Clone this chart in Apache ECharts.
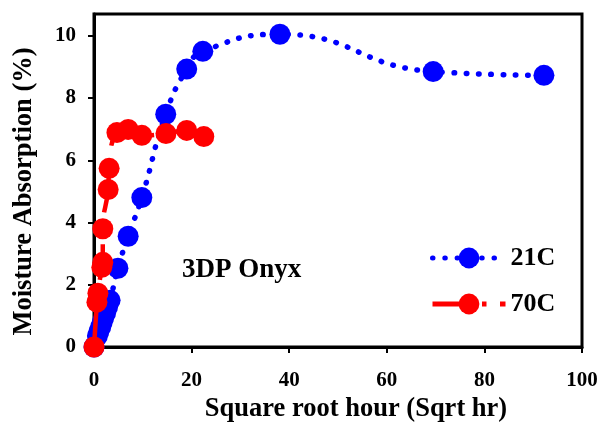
<!DOCTYPE html>
<html>
<head>
<meta charset="utf-8">
<script src="https://cdn.jsdelivr.net/npm/echarts@6/dist/echarts.min.js"></script>
<style>
  html, body { margin: 0; padding: 0; background: #fff; }
  #chart { width: 610px; height: 429px; }
</style>
</head>
<body>
<div id="chart"></div>
<script>
// Moisture uptake of 3DP Onyx versus square root of exposure time
const seriesNames = ['21C', '70C'];

const x21 = [0, 0.7, 1.0, 1.4, 1.7, 2.0, 2.4, 2.8, 3.3, 4.9, 7.0, 9.8, 14.7, 19.0, 22.3, 38.1, 69.5, 92.2];
const y21 = [0, 0.35, 0.5, 0.65, 0.8, 0.95, 1.1, 1.3, 1.5, 2.53, 3.56, 4.8, 7.48, 8.93, 9.5, 10.05, 8.85, 8.73];

const x70 = [0, 0.6, 0.8, 1.6, 1.8, 1.8, 2.9, 3.1, 4.7, 7.0, 9.8, 14.75, 19.0, 22.5];
const y70 = [0, 1.44, 1.73, 2.56, 2.72, 3.8, 5.06, 5.74, 6.89, 6.99, 6.8, 6.86, 6.96, 6.76];

const yTicks = [0, 2, 4, 6, 8, 10];
const xTicks = [0, 20, 40, 60, 80, 100];

const pairs = (xs, ys) => xs.map((x, i) => [x, ys[i]]);

const serif = "'Liberation Serif', 'Times New Roman', serif";

const chart = echarts.init(document.getElementById('chart'), null, { renderer: 'canvas' });

chart.setOption({
  animation: false,
  backgroundColor: '#fff',
  grid: {
    left: 94, right: 28, top: 14, bottom: 82,
    show: true, borderColor: '#000', borderWidth: 3, backgroundColor: 'transparent'
  },
  legend: {
    data: seriesNames,
    orient: 'vertical',
    left: 430,
    top: 245,
    padding: 0,
    itemWidth: 73,
    itemHeight: 26,
    itemGap: 20,
    lineStyle: { width: 5 },
    textStyle: { fontFamily: serif, fontWeight: 'bold', fontSize: 26, color: '#000' }
  },
  xAxis: {
    type: 'value',
    min: 0, max: 100, interval: 20,
    name: 'Square root hour (Sqrt hr)',
    nameLocation: 'middle',
    nameGap: 47,
    nameTextStyle: { fontFamily: serif, fontWeight: 'bold', fontSize: 26.5, color: '#000', padding: [0, 0, 0, 36] },
    splitLine: { show: false },
    axisLine: { show: true, lineStyle: { color: '#000', width: 3 } },
    axisTick: { show: true, inside: false, length: 6, lineStyle: { color: '#000', width: 2 }, customValues: xTicks },
    axisLabel: { margin: 23, fontFamily: serif, fontWeight: 'bold', fontSize: 21, color: '#000', customValues: xTicks }
  },
  yAxis: {
    type: 'value',
    min: 0, max: 10.7, interval: 2,
    name: 'Moisture Absorption (%)',
    nameLocation: 'middle',
    nameGap: 56,
    nameRotate: 90,
    nameTextStyle: { fontFamily: serif, fontWeight: 'bold', fontSize: 26.5, color: '#000', padding: [0, 22, 0, 0] },
    splitLine: { show: false },
    axisLine: { show: true, lineStyle: { color: '#000', width: 3 } },
    axisTick: { show: true, inside: false, length: 6, lineStyle: { color: '#000', width: 2 }, customValues: yTicks },
    axisLabel: {
      margin: 18, fontFamily: serif, fontWeight: 'bold', fontSize: 21, color: '#000',
      customValues: yTicks,
      formatter: v => (v % 2 === 0 ? String(v) : '')
    }
  },
  graphic: [{
    type: 'text',
    left: 182,
    top: 257,
    style: { text: '3DP Onyx', font: "bold 27px 'Liberation Serif', serif", fill: '#000' }
  }],
  series: [
    {
      name: seriesNames[0],
      type: 'line',
      data: pairs(x21, y21),
      smooth: 0.5,
      symbol: 'circle',
      symbolSize: 21,
      itemStyle: { color: '#0000ff' },
      lineStyle: { color: '#0000ff', width: 5.5, type: [0.5, 11.8], cap: 'round' },
      z: 2
    },
    {
      name: seriesNames[1],
      type: 'line',
      data: pairs(x70, y70),
      smooth: 0.5,
      symbol: 'circle',
      symbolSize: 21,
      itemStyle: { color: '#ff0000' },
      lineStyle: { color: '#ff0000', width: 4.5, type: [36, 13.5, 4.5, 13.5], cap: 'butt' },
      z: 3
    }
  ]
});
</script>
</body>
</html>
